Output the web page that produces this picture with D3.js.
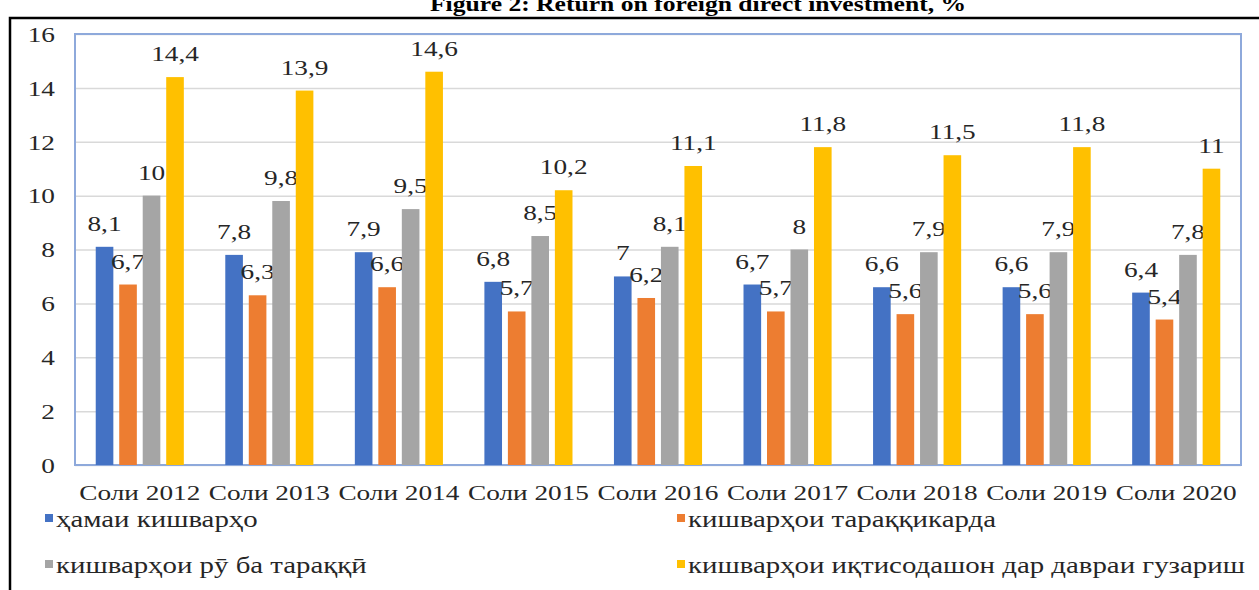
<!DOCTYPE html>
<html>
<head>
<meta charset="utf-8">
<script src="https://cdn.jsdelivr.net/npm/d3@7"></script>
<style>
  body { margin: 0; background: #fff; }
  text { font-family: "Liberation Serif", "Times New Roman", serif; fill: #262626; }
</style>
</head>
<body>
<div id="chart"></div>
<script>
const categories = ["Соли 2012", "Соли 2013", "Соли 2014", "Соли 2015", "Соли 2016", "Соли 2017", "Соли 2018", "Соли 2019", "Соли 2020"];
const seriesNames = ["ҳамаи кишварҳо", "кишварҳои тараққикарда", "кишварҳои рӯ ба тараққӣ", "кишварҳои иқтисодашон дар давраи гузариш"];
const allCountries = [8.1, 7.8, 7.9, 6.8, 7, 6.7, 6.6, 6.6, 6.4];
const developed = [6.7, 6.3, 6.6, 5.7, 6.2, 5.7, 5.6, 5.6, 5.4];
const developing = [10, 9.8, 9.5, 8.5, 8.1, 8, 7.9, 7.9, 7.8];
const transition = [14.4, 13.9, 14.6, 10.2, 11.1, 11.8, 11.5, 11.8, 11];
const yTicks = [0, 2, 4, 6, 8, 10, 12, 14, 16];
const colors = ["#4472C4", "#ED7D31", "#A5A5A5", "#FFC000"];
const title = "Figure 2: Return on foreign direct investment, %";

const seriesValues = [allCountries, developed, developing, transition];
const fmt = v => String(v).replace(".", ",");

const width = 1259, height = 590;
const plot = { left: 75, right: 1241, top: 34, bottom: 465 };
const sx = 1.24; // the source picture is stretched sideways

let svg = d3.select("#chart").append("svg")
  .attr("width", width)
  .attr("height", height);

// title, half cut off by the top edge as in the source
svg.append("text")
  .attr("transform", `translate(698,11) scale(1.22,1)`)
  .attr("text-anchor", "middle")
  .style("font-weight", "bold")
  .style("font-size", "21px")
  .style("fill", "#000")
  .text(title);

// black frame around the figure
svg.append("path")
  .attr("d", `M10,${height} V18 H${width}`)
  .attr("fill", "none")
  .attr("stroke", "#000")
  .attr("stroke-width", 2.5);

let x0 = d3.scaleBand()
  .domain(categories)
  .range([plot.left, plot.right])
  .paddingInner(0.32)
  .paddingOuter(0.16);

let x1 = d3.scaleBand()
  .domain(d3.range(seriesNames.length))
  .range([0, x0.bandwidth()])
  .paddingInner(0.25);

let y = d3.scaleLinear()
  .domain([0, 16])
  .range([plot.bottom, plot.top]);

// gridlines + y labels
let yAxis = svg.append("g")
  .attr("transform", `translate(${plot.left},0)`)
  .call(d3.axisLeft(y).tickValues(yTicks).tickSize(-(plot.right - plot.left)).tickFormat(d3.format("d")));
yAxis.select(".domain").remove();
yAxis.selectAll(".tick line").attr("stroke", "#d9d9d9").attr("stroke-width", 1.5);
yAxis.selectAll(".tick text")
  .attr("x", 0)
  .attr("dy", "0.33em")
  .attr("transform", `translate(-20,0) scale(${sx},1)`)
  .style("font-size", "22px")
  .style("font-family", "Liberation Serif, serif")
  .style("fill", "#262626");

// plot border
svg.append("rect")
  .attr("x", plot.left)
  .attr("y", plot.top)
  .attr("width", plot.right - plot.left)
  .attr("height", plot.bottom - plot.top)
  .attr("fill", "none")
  .attr("stroke", "#8EA9DB")
  .attr("stroke-width", 2);

let groups = svg.append("g")
  .selectAll("g")
  .data(categories)
  .enter().append("g")
  .attr("transform", d => `translate(${x0(d)},0)`);

let cells = groups.selectAll("g")
  .data((c, i) => seriesValues.map((vals, s) => ({ s: s, v: vals[i] })))
  .enter().append("g");

cells.append("rect")
  .attr("x", d => x1(d.s))
  .attr("y", d => y(d.v))
  .attr("width", x1.bandwidth())
  .attr("height", d => plot.bottom - y(d.v))
  .attr("fill", d => colors[d.s]);

cells.append("text")
  .attr("transform", d => `translate(${x1(d.s) + x1.bandwidth() / 2},${y(d.v) - 16}) scale(${sx},1)`)
  .attr("text-anchor", "middle")
  .style("font-size", "22px")
  .text(d => fmt(d.v));

// category labels
let xAxis = svg.append("g")
  .attr("transform", `translate(0,${plot.bottom})`)
  .call(d3.axisBottom(x0).tickSize(0));
xAxis.select(".domain").remove();
xAxis.selectAll(".tick text")
  .attr("y", 0)
  .attr("dy", 0)
  .attr("transform", `translate(0,35) scale(${sx},1)`)
  .style("font-size", "22px")
  .style("font-family", "Liberation Serif, serif")
  .style("fill", "#262626");

// legend, two columns
let legendPos = [[45, 527], [677, 527], [45, 573], [677, 573]];
let legend = svg.append("g")
  .selectAll("g")
  .data(seriesNames)
  .enter().append("g")
  .attr("transform", (d, i) => `translate(${legendPos[i][0]},${legendPos[i][1]})`);

legend.append("rect")
  .attr("x", 0)
  .attr("y", -13)
  .attr("width", 8)
  .attr("height", 8)
  .attr("fill", (d, i) => colors[i]);

legend.append("text")
  .attr("transform", `translate(11,0) scale(1.255,1)`)
  .style("font-size", "23px")
  .text(d => d);
</script>
</body>
</html>
